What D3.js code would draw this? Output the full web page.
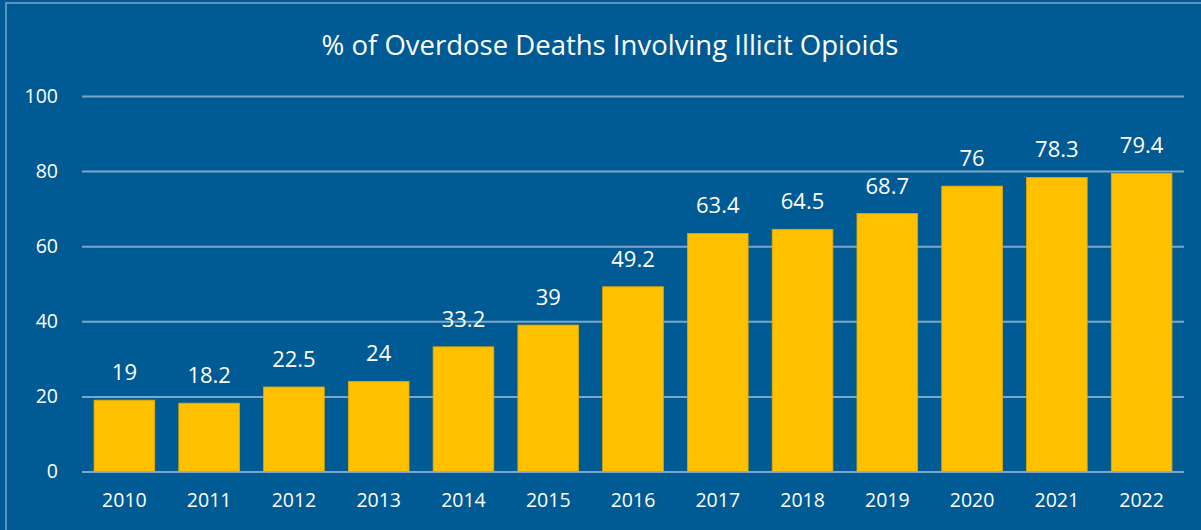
<!DOCTYPE html>
<html>
<head>
<meta charset="utf-8">
<script src="https://cdn.jsdelivr.net/npm/d3@7"></script>
<style>
  body { margin: 0; background: #005a93; }
  svg { display: block; font-family: "Open Sans", sans-serif; }
</style>
</head>
<body>
<svg id="chart"></svg>
<script>
const years = ["2010", "2011", "2012", "2013", "2014", "2015", "2016", "2017", "2018", "2019", "2020", "2021", "2022"];
const values = [19, 18.2, 22.5, 24, 33.2, 39, 49.2, 63.4, 64.5, 68.7, 76, 78.3, 79.4];
const yTicks = [0, 20, 40, 60, 80, 100];
const title = "% of Overdose Deaths Involving Illicit Opioids";

const width = 1201;
const height = 530;
const margin = {top: 96, right: 17, bottom: 58, left: 82};

const svg = d3.select("#chart")
    .attr("width", width)
    .attr("height", height);

// background and frame
svg.append("rect")
    .attr("width", width)
    .attr("height", height)
    .attr("fill", "#005a93");

svg.append("rect")
    .attr("x", 6)
    .attr("y", 3)
    .attr("width", width + 20)
    .attr("height", height + 20)
    .attr("fill", "none")
    .attr("stroke", "#7fa6c8")
    .attr("stroke-width", 1.5);

svg.append("text")
    .attr("x", 610)
    .attr("y", 55)
    .attr("text-anchor", "middle")
    .attr("fill", "#ffffff")
    .style("font-size", "27.5px")
    .text(title);

const x = d3.scaleBand()
    .domain(years)
    .range([margin.left, width - margin.right])
    .paddingInner(0.284)
    .paddingOuter(0.142);

const y = d3.scaleLinear()
    .domain([0, 100])
    .range([height - margin.bottom - 0.5, margin.top]);

// gridlines
svg.append("g")
    .attr("transform", `translate(${margin.left},0)`)
    .call(d3.axisLeft(y).tickValues(yTicks).tickSize(-(width - margin.left - margin.right)).tickFormat(""))
    .call(g => g.select(".domain").remove())
    .call(g => g.selectAll("line").attr("stroke", "#7fa6c8").attr("stroke-width", 2));

// y labels
svg.append("g")
    .attr("transform", `translate(${margin.left},0)`)
    .call(d3.axisLeft(y).tickValues(yTicks).tickSize(0).tickPadding(24))
    .call(g => g.select(".domain").remove())
    .call(g => g.selectAll("text").attr("fill", "#ffffff").style("font-size", "19.5px").style("font-family", "Open Sans, sans-serif"));

// bars
svg.selectAll("rect.bar")
    .data(values)
    .enter()
    .append("rect")
    .attr("class", "bar")
    .attr("x", (d, i) => x(years[i]))
    .attr("y", d => y(d))
    .attr("width", x.bandwidth())
    .attr("height", d => y(0) - y(d))
    .attr("fill", "#ffc000")
    .attr("stroke", "#e0a800")
    .attr("stroke-width", 0.8);

// value labels
svg.selectAll("text.val")
    .data(values)
    .enter()
    .append("text")
    .attr("class", "val")
    .attr("x", (d, i) => x(years[i]) + x.bandwidth() / 2)
    .attr("y", d => y(d) - 20)
    .attr("text-anchor", "middle")
    .attr("fill", "#ffffff")
    .style("font-size", "22px")
    .text(d => d);

// x labels
svg.append("g")
    .attr("transform", `translate(0,${y(0)})`)
    .call(d3.axisBottom(x).tickSize(0).tickPadding(22))
    .call(g => g.select(".domain").remove())
    .call(g => g.selectAll("text").attr("fill", "#ffffff").style("font-size", "19.5px").style("font-family", "Open Sans, sans-serif"));
</script>
</body>
</html>
